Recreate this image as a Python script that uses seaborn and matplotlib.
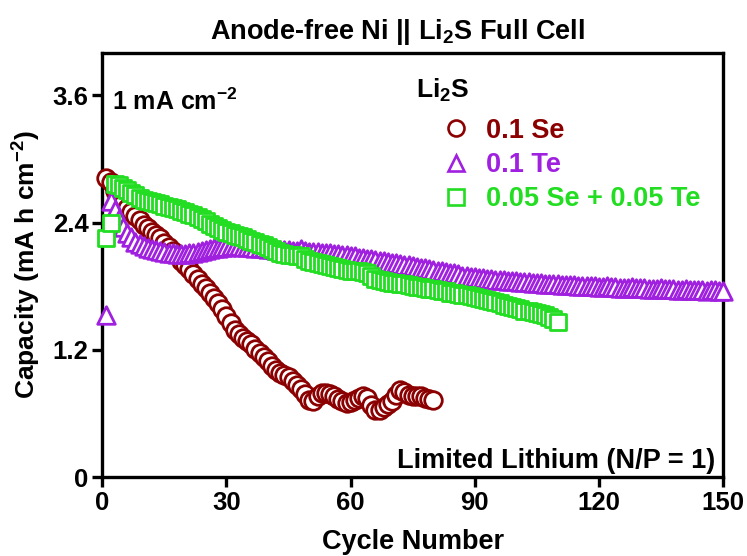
import matplotlib
matplotlib.use("Agg")
import matplotlib.pyplot as plt
from matplotlib.lines import Line2D
import numpy as np
import pandas as pd
import seaborn as sns

# Areal discharge capacity (mA h cm^-2) per cycle
se_cap = [2.82, 2.78, 2.70, 2.64, 2.58, 2.54, 2.50, 2.46, 2.42, 2.38,
          2.35, 2.31, 2.28, 2.25, 2.21, 2.17, 2.13, 2.09, 2.04, 2.00,
          1.96, 1.91, 1.87, 1.82, 1.78, 1.74, 1.69, 1.64, 1.58, 1.52,
          1.45, 1.39, 1.35, 1.31, 1.28, 1.25, 1.21, 1.17, 1.13, 1.09,
          1.05, 1.01, 0.98, 0.96, 0.94, 0.91, 0.87, 0.83, 0.78, 0.73,
          0.72, 0.76, 0.79, 0.79, 0.78, 0.76, 0.74, 0.72, 0.70, 0.71,
          0.73, 0.75, 0.76, 0.75, 0.68, 0.63, 0.63, 0.66, 0.69, 0.72,
          0.77, 0.82, 0.80, 0.77, 0.76, 0.76, 0.76, 0.75, 0.74, 0.73]

te_cap = [1.53, 2.60, 2.52, 2.43, 2.36, 2.30, 2.26, 2.22, 2.20, 2.18,
          2.16, 2.15, 2.14, 2.13, 2.12, 2.11, 2.11, 2.10, 2.10, 2.10,
          2.11, 2.11, 2.12, 2.13, 2.14, 2.15, 2.16, 2.16, 2.17, 2.17,
          2.18, 2.18, 2.18, 2.17, 2.17, 2.17, 2.16, 2.16, 2.16, 2.15,
          2.15, 2.14, 2.14, 2.14, 2.14, 2.13, 2.13, 2.15, 2.13, 2.12,
          2.12, 2.12, 2.11, 2.11, 2.11, 2.10, 2.10, 2.09, 2.09, 2.08,
          2.08, 2.07, 2.07, 2.06, 2.06, 2.05, 2.04, 2.04, 2.03, 2.02,
          2.02, 2.01, 2.00, 2.00, 1.99, 1.98, 1.97, 1.97, 1.96, 1.95,
          1.94, 1.94, 1.93, 1.92, 1.92, 1.91, 1.90, 1.90, 1.89, 1.89,
          1.88, 1.88, 1.87, 1.87, 1.86, 1.86, 1.86, 1.85, 1.85, 1.85,
          1.84, 1.84, 1.84, 1.83, 1.83, 1.83, 1.82, 1.82, 1.82, 1.82,
          1.81, 1.81, 1.81, 1.81, 1.80, 1.80, 1.80, 1.80, 1.80, 1.79,
          1.79, 1.80, 1.79, 1.79, 1.78, 1.78, 1.78, 1.79, 1.78, 1.78,
          1.78, 1.77, 1.77, 1.77, 1.78, 1.77, 1.77, 1.77, 1.76, 1.76,
          1.77, 1.76, 1.76, 1.76, 1.76, 1.75, 1.76, 1.76, 1.75, 1.75]

sete_cap = [2.25, 2.40, 2.76, 2.75, 2.73, 2.71, 2.68, 2.66, 2.63, 2.61,
            2.60, 2.59, 2.58, 2.57, 2.56, 2.55, 2.54, 2.53, 2.51, 2.50,
            2.48, 2.47, 2.45, 2.43, 2.41, 2.39, 2.37, 2.35, 2.33, 2.31,
            2.30, 2.28, 2.27, 2.26, 2.24, 2.23, 2.22, 2.20, 2.19, 2.17,
            2.15, 2.13, 2.11, 2.10, 2.09, 2.09, 2.08, 2.08, 2.06, 2.04,
            2.03, 2.02, 2.01, 2.00, 1.99, 1.98, 1.97, 1.96, 1.95, 1.94,
            1.94, 1.94, 1.93, 1.92, 1.90, 1.87, 1.86, 1.85, 1.84, 1.83,
            1.83, 1.82, 1.82, 1.81, 1.80, 1.79, 1.79, 1.78, 1.77, 1.77,
            1.76, 1.75, 1.75, 1.74, 1.74, 1.73, 1.72, 1.72, 1.71, 1.70,
            1.69, 1.68, 1.67, 1.66, 1.65, 1.64, 1.62, 1.61, 1.60, 1.59,
            1.58, 1.57, 1.57, 1.56, 1.55, 1.54, 1.53, 1.51, 1.49, 1.46]

series_labels = ["0.1 Se", "0.1 Te", "0.05 Se + 0.05 Te"]
series_colors = ["#8B0000", "#A020E0", "#22DD22"]
series_markers = ["o", "^", "s"]

x_ticks = [0, 30, 60, 90, 120, 150]
y_ticks = [0, 1.2, 2.4, 3.6]
y_tick_labels = ["0", "1.2", "2.4", "3.6"]

sns.set_theme(style="ticks")
plt.rcParams["font.family"] = ["Liberation Sans", "DejaVu Sans"]
plt.rcParams["font.weight"] = "bold"
plt.rcParams["mathtext.fontset"] = "custom"
plt.rcParams["mathtext.rm"] = "Liberation Sans:bold"
plt.rcParams["mathtext.bf"] = "Liberation Sans:bold"
plt.rcParams["mathtext.it"] = "Liberation Sans:bold"
plt.rcParams["mathtext.default"] = "bf"
for key in ["text.color", "axes.labelcolor", "xtick.color", "ytick.color",
            "axes.edgecolor"]:
    plt.rcParams[key] = "black"

fig = plt.figure(figsize=(7.47, 5.56), dpi=100)
ax = fig.add_axes([0.137, 0.142, 0.831, 0.763])

frames = []
for lab, vals in zip(series_labels, [se_cap, te_cap, sete_cap]):
    frames.append(pd.DataFrame({"cycle": np.arange(1, len(vals) + 1),
                                "capacity": vals, "sample": lab}))
df = pd.concat(frames, ignore_index=True)

# Te underneath, Se in the middle, mixed Se/Te on top
draw_order = [1, 0, 2]
sizes = {"o": 160, "^": 160, "s": 140}
for i in draw_order:
    sub = df[df["sample"] == series_labels[i]]
    sns.scatterplot(data=sub, x="cycle", y="capacity", ax=ax,
                    marker=series_markers[i], s=sizes[series_markers[i]],
                    facecolor="white", edgecolor=series_colors[i],
                    linewidth=2.0, clip_on=False, zorder=3 + i, legend=False)

ax.set_xlim(0, 150)
ax.set_ylim(0, 4.0)
ax.set_xticks(x_ticks)
ax.set_yticks(y_ticks)
ax.set_yticklabels(y_tick_labels)
for sp in ax.spines.values():
    sp.set_linewidth(2.4)
    sp.set_color("black")
ax.tick_params(direction="out", length=7, width=2.4, labelsize=18.5,
               color="black", labelcolor="black", pad=3)
for t in ax.get_xticklabels() + ax.get_yticklabels():
    t.set_fontweight("bold")

ax.set_xlabel("Cycle Number", fontsize=19.5, fontweight="bold", labelpad=10)
ax.set_ylabel("Capacity (mA h cm$^{-2}$)", fontsize=19, fontweight="bold",
              labelpad=7)
ax.set_title("Anode-free Ni || Li$_2$S Full Cell", fontsize=19.5,
             fontweight="bold", pad=10, x=0.475)

ax.text(0.016, 0.915, "1 mA cm$^{-2}$", transform=ax.transAxes, fontsize=18,
        fontweight="bold", va="top", ha="left")
ax.text(0.987, 0.008, "Limited Lithium (N/P = 1)", transform=ax.transAxes,
        fontsize=19.5, fontweight="bold", va="bottom", ha="right")
ax.text(0.506, 0.912, "Li$_2$S", transform=ax.transAxes, fontsize=19,
        fontweight="bold", va="center", ha="left")

handles = [Line2D([], [], linestyle="none", marker=m, markersize=11.5,
                  markerfacecolor="white", markeredgecolor=c,
                  markeredgewidth=1.9)
           for m, c in zip(series_markers, series_colors)]
leg = ax.legend(handles, series_labels, loc="upper left",
                bbox_to_anchor=(0.53, 0.872), frameon=False,
                prop={"size": 19.5, "weight": "bold"}, handlelength=1.0,
                handletextpad=0.6, labelspacing=0.3, borderaxespad=0)
for txt, c in zip(leg.get_texts(), series_colors):
    txt.set_color(c)

fig.savefig("out.png", dpi=100)
